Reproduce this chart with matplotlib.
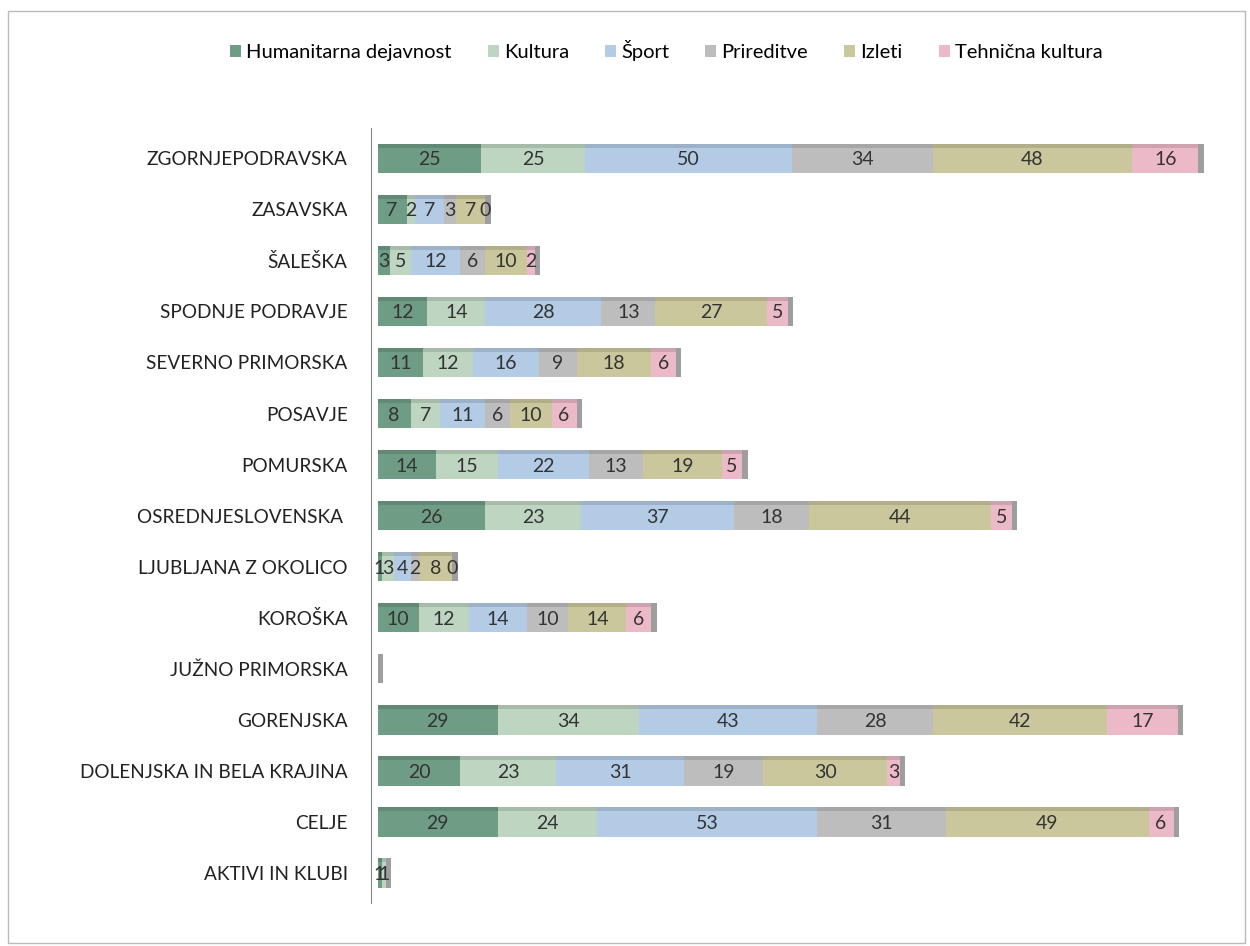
import matplotlib.pyplot as plt
import numpy as np

plt.rcParams['font.family'] = ['Lato', 'DejaVu Sans']

regije = ["ZGORNJEPODRAVSKA", "ZASAVSKA", "ŠALEŠKA", "SPODNJE PODRAVJE",
          "SEVERNO PRIMORSKA", "POSAVJE", "POMURSKA", "OSREDNJESLOVENSKA ",
          "LJUBLJANA Z OKOLICO", "KOROŠKA", "JUŽNO PRIMORSKA", "GORENJSKA",
          "DOLENJSKA IN BELA KRAJINA", "CELJE", "AKTIVI IN KLUBI"]

humanitarna = [25, 7, 3, 12, 11, 8, 14, 26, 1, 10, 0, 29, 20, 29, 1]
kultura     = [25, 2, 5, 14, 12, 7, 15, 23, 3, 12, 0, 34, 23, 24, 1]
sport       = [50, 7, 12, 28, 16, 11, 22, 37, 4, 14, 0, 43, 31, 53, 0]
prireditve  = [34, 3, 6, 13, 9, 6, 13, 18, 2, 10, 0, 28, 19, 31, 0]
izleti      = [48, 7, 10, 27, 18, 10, 19, 44, 8, 14, 0, 42, 30, 49, 0]
tehnicna    = [16, 0, 2, 5, 6, 6, 5, 5, 0, 6, 0, 17, 3, 6, 0]

serije = ["Humanitarna dejavnost", "Kultura", "Šport", "Prireditve", "Izleti", "Tehnična kultura"]
barve = ["#6f9c84", "#bed5c1", "#b3cbe5", "#bdbdbd", "#cbc79c", "#ebb9c7"]
podatki = [humanitarna, kultura, sport, prireditve, izleti, tehnicna]

fig = plt.figure(figsize=(12.5, 9.46), dpi=100)
ax = fig.add_axes([0.302, 0.045, 0.67, 0.82])

y = np.arange(len(regije))
levo = np.zeros(len(regije))
for ime, vals, c in zip(serije, podatki, barve):
    vals = np.array(vals)
    ax.barh(y, vals, left=levo, height=0.58, color=c, label=ime, edgecolor='none')
    # darker top strip, a hint of the 3d look
    ax.barh(y - 0.25, vals, left=levo, height=0.08, color='black', alpha=0.12, edgecolor='none')
    for yi, l, v in zip(y, levo, vals):
        if v == 0 and regije[yi] in ("JUŽNO PRIMORSKA", "AKTIVI IN KLUBI"):
            continue
        ax.text(l + v / 2, yi + 0.03, str(v), ha='center', va='center', fontsize=14, color='#333333')
    levo += vals

# grey end caps
ax.barh(y, 1.3, left=levo, height=0.58, color='#9e9e9e', edgecolor='none')

ax.set_yticks(y)
ax.set_yticklabels(regije)
ax.invert_yaxis()
ax.set_ylim(len(regije) - 0.4, -0.6)
ax.set_xlim(0, 202)
ax.set_xticks([])
ax.tick_params(axis='y', length=0, pad=17, labelsize=13.7, labelcolor='#222222')
for s in ['top', 'right', 'bottom']:
    ax.spines[s].set_visible(False)
ax.spines['left'].set_color('#888888')
ax.spines['left'].set_position(('data', -1.5))

leg = fig.legend(loc='upper center', bbox_to_anchor=(0.533, 0.977), ncol=6, frameon=False,
                 fontsize=14.5, handlelength=0.55, handleheight=0.55, handletextpad=0.25, columnspacing=1.8)

fig.patches.append(plt.Rectangle((0.006, 0.003), 0.99, 0.985, transform=fig.transFigure,
                                 fill=False, edgecolor='#bbbbbb', lw=1))

fig.savefig("out.png", dpi=100, facecolor='white')
